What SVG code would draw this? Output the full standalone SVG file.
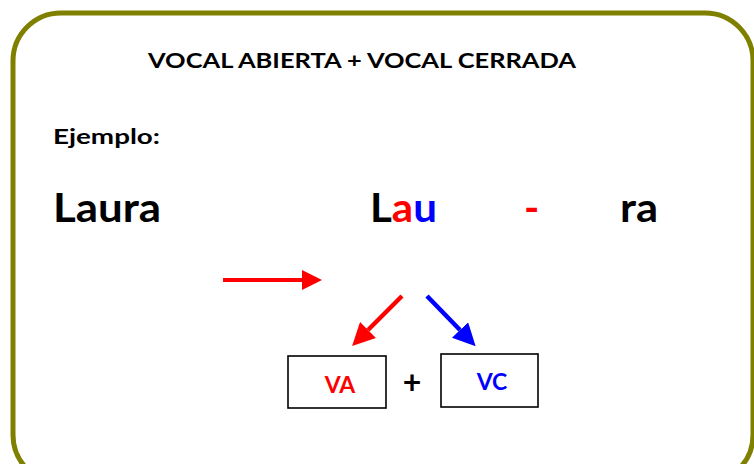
<svg xmlns="http://www.w3.org/2000/svg" width="754" height="464" viewBox="0 0 754 464">
<style>
text{font-family:Lato,"Open Sans","Liberation Sans",sans-serif;font-weight:bold;}
.k{fill:#000}
.r{fill:#ff0000}
.b{fill:#0000ff}
.box{fill:#fff;stroke:#000;stroke-width:1.6}
</style>
<defs>
<marker id="hr" markerWidth="5" markerHeight="5" refX="0" refY="2.5" orient="auto" markerUnits="strokeWidth"><path d="M0,0 L5,2.5 L0,5 Z" fill="#ff0000"/></marker>
<marker id="hb" markerWidth="5" markerHeight="5" refX="0" refY="2.5" orient="auto" markerUnits="strokeWidth"><path d="M0,0 L5,2.5 L0,5 Z" fill="#0000ff"/></marker>
</defs>
<rect width="754" height="464" fill="#fff"/>
<rect x="13" y="13" width="740" height="470" rx="48" ry="48" fill="#fff" stroke="#808000" stroke-width="5"/>
<g id="title"><text x="148" y="68" font-size="21" class="k" textLength="428" lengthAdjust="spacingAndGlyphs">VOCAL ABIERTA + VOCAL CERRADA</text></g>
<g id="ejemplo"><text x="53" y="144" font-size="20" class="k" textLength="107" lengthAdjust="spacingAndGlyphs">Ejemplo:</text></g>
<g id="laura"><text x="53" y="222" font-size="41" class="k" textLength="108" lengthAdjust="spacingAndGlyphs">Laura</text></g>
<g id="lau"><text x="370" y="222" font-size="41" class="k" textLength="67" lengthAdjust="spacingAndGlyphs">L<tspan class="r">a</tspan><tspan class="b">u</tspan></text></g>
<g id="dash"><text x="524" y="222" font-size="41" class="r">-</text></g>
<g id="ra"><text x="620" y="222" font-size="41" class="k" textLength="38" lengthAdjust="spacingAndGlyphs">ra</text></g>
<g id="connectors">
<line x1="223" y1="280" x2="302" y2="280" stroke="#ff0000" stroke-width="4" marker-end="url(#hr)"/>
<line x1="402" y1="296" x2="368" y2="330" stroke="#ff0000" stroke-width="4.5" marker-end="url(#hr)"/>
<line x1="427" y1="296" x2="460" y2="330" stroke="#0000ff" stroke-width="4.5" marker-end="url(#hb)"/>
</g>
<g id="va"><rect x="288" y="356" width="98" height="52" class="box"/><text x="340" y="393" font-size="23" class="r" text-anchor="middle">VA</text></g>
<g id="plus"><text x="412" y="394" font-size="32" class="k" text-anchor="middle">+</text></g>
<g id="vc"><rect x="441" y="354" width="97" height="53" class="box"/><text x="492" y="390" font-size="23" class="b" text-anchor="middle">VC</text></g>
</svg>
